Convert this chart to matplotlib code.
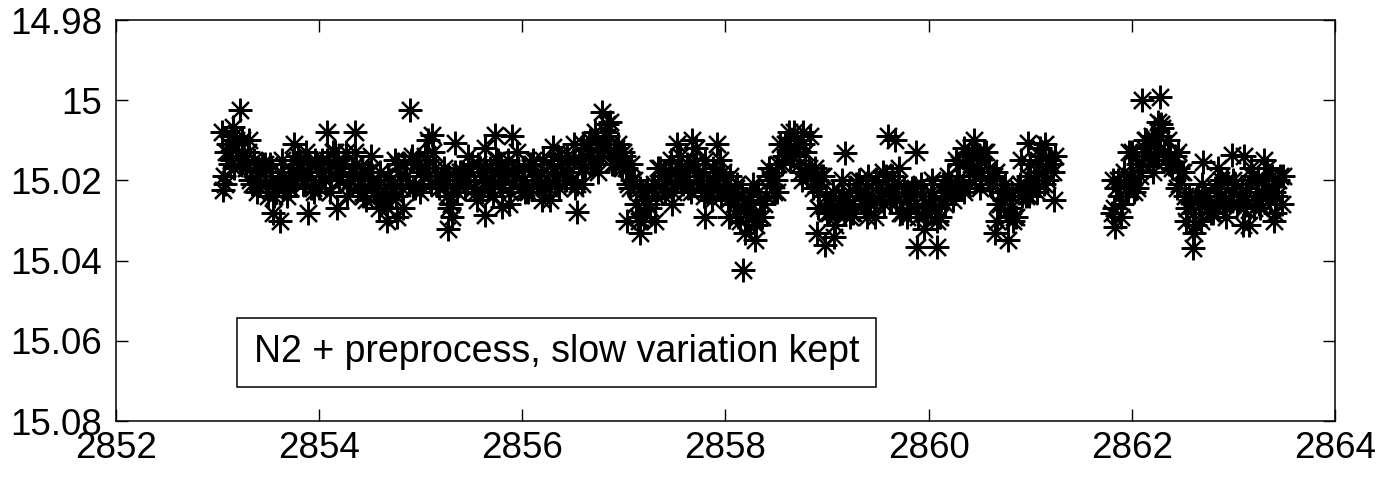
import numpy as np
import matplotlib
matplotlib.use("Agg")
import matplotlib.pyplot as plt

plt.rcParams['font.family'] = ['Liberation Sans', 'DejaVu Sans']

# first observing block (days, mag)
t1 = [2853.06, 2853.10, 2853.14, 2853.18, 2853.22, 2853.26, 2853.30, 2853.34, 2853.38, 2853.42,
      2853.46, 2853.50, 2853.54, 2853.58, 2853.62, 2853.66, 2853.70, 2853.74, 2853.78, 2853.82,
      2853.86, 2853.90, 2853.94, 2853.98, 2854.02, 2854.06, 2854.10, 2854.14, 2854.18, 2854.22,
      2854.26, 2854.30, 2854.34, 2854.38, 2854.42, 2854.46, 2854.50, 2854.54, 2854.58, 2854.62,
      2854.66, 2854.70, 2854.74, 2854.78, 2854.82, 2854.86, 2854.90, 2854.94, 2854.98, 2855.02,
      2855.06, 2855.10, 2855.14, 2855.18, 2855.22, 2855.26, 2855.30, 2855.34, 2855.38, 2855.42,
      2855.46, 2855.50, 2855.54, 2855.58, 2855.62, 2855.66, 2855.70, 2855.74, 2855.78, 2855.82,
      2855.86, 2855.90, 2855.94, 2855.98, 2856.02, 2856.06, 2856.10, 2856.14, 2856.18, 2856.22,
      2856.26, 2856.30, 2856.34, 2856.38, 2856.42, 2856.46, 2856.50, 2856.54, 2856.58, 2856.62,
      2856.66, 2856.70, 2856.74, 2856.78, 2856.82, 2856.86, 2856.90, 2856.94, 2856.98, 2857.02,
      2857.06, 2857.10, 2857.14, 2857.18, 2857.22, 2857.26, 2857.30, 2857.34, 2857.38, 2857.42,
      2857.46, 2857.50, 2857.54, 2857.58, 2857.62, 2857.66, 2857.70, 2857.74, 2857.78, 2857.82,
      2857.86, 2857.90, 2857.94, 2857.98, 2858.02, 2858.06, 2858.10, 2858.14, 2858.18, 2858.22,
      2858.26, 2858.30, 2858.34, 2858.38, 2858.42, 2858.46, 2858.50, 2858.54, 2858.58, 2858.62,
      2858.66, 2858.70, 2858.74, 2858.78, 2858.82, 2858.86, 2858.90, 2858.94, 2858.98, 2859.02,
      2859.06, 2859.10, 2859.14, 2859.18, 2859.22, 2859.26, 2859.30, 2859.34, 2859.38, 2859.42,
      2859.46, 2859.50, 2859.54, 2859.58, 2859.62, 2859.66, 2859.70, 2859.74, 2859.78, 2859.82,
      2859.86, 2859.90, 2859.94, 2859.98, 2860.02, 2860.06, 2860.10, 2860.14, 2860.18, 2860.22,
      2860.26, 2860.30, 2860.34, 2860.38, 2860.42, 2860.46, 2860.50, 2860.54, 2860.58, 2860.62,
      2860.66, 2860.70, 2860.74, 2860.78, 2860.82, 2860.86, 2860.90, 2860.94, 2860.98, 2861.02,
      2861.06, 2861.10, 2861.14, 2861.18, 2861.22]
m1 = [15.019, 15.013, 15.015, 15.010, 15.016, 15.015, 15.013, 15.021, 15.017, 15.021,
      15.017, 15.024, 15.020, 15.023, 15.018, 15.021, 15.022, 15.015, 15.019, 15.017,
      15.020, 15.016, 15.022, 15.016, 15.018, 15.020, 15.016, 15.013, 15.019, 15.018,
      15.013, 15.020, 15.018, 15.022, 15.018, 15.025, 15.018, 15.023, 15.021, 15.025,
      15.025, 15.020, 15.022, 15.016, 15.022, 15.019, 15.015, 15.022, 15.016, 15.019,
      15.015, 15.021, 15.017, 15.022, 15.019, 15.024, 15.026, 15.018, 15.021, 15.018,
      15.020, 15.016, 15.023, 15.017, 15.019, 15.022, 15.018, 15.015, 15.021, 15.020,
      15.015, 15.021, 15.019, 15.022, 15.017, 15.023, 15.016, 15.020, 15.018, 15.022,
      15.022, 15.017, 15.020, 15.015, 15.020, 15.018, 15.015, 15.021, 15.015, 15.017,
      15.011, 15.016, 15.010, 15.013, 15.008, 15.013, 15.016, 15.011, 15.017, 15.017,
      15.022, 15.020, 15.029, 15.023, 15.025, 15.027, 15.021, 15.017, 15.022, 15.020,
      15.015, 15.021, 15.019, 15.021, 15.016, 15.023, 15.016, 15.020, 15.018, 15.023,
      15.023, 15.018, 15.022, 15.018, 15.025, 15.024, 15.022, 15.030, 15.026, 15.029,
      15.026, 15.031, 15.025, 15.026, 15.019, 15.020, 15.020, 15.011, 15.014, 15.011,
      15.014, 15.010, 15.018, 15.013, 15.017, 15.022, 15.020, 15.019, 15.027, 15.028,
      15.023, 15.028, 15.026, 15.028, 15.023, 15.028, 15.021, 15.025, 15.022, 15.026,
      15.026, 15.021, 15.024, 15.019, 15.025, 15.023, 15.021, 15.028, 15.023, 15.027,
      15.023, 15.029, 15.024, 15.028, 15.023, 15.027, 15.029, 15.021, 15.024, 15.021,
      15.022, 15.016, 15.022, 15.015, 15.016, 15.019, 15.015, 15.013, 15.020, 15.021,
      15.018, 15.026, 15.025, 15.029, 15.024, 15.029, 15.021, 15.023, 15.019, 15.022,
      15.019, 15.014, 15.021, 15.015, 15.018]

# same block, readings in between
t1b = [2853.08, 2853.12, 2853.16, 2853.20, 2853.24, 2853.28, 2853.32, 2853.36, 2853.40, 2853.44,
       2853.48, 2853.52, 2853.56, 2853.60, 2853.64, 2853.68, 2853.72, 2853.76, 2853.80, 2853.84,
       2853.88, 2853.92, 2853.96, 2854.00, 2854.04, 2854.08, 2854.12, 2854.16, 2854.20, 2854.24,
       2854.28, 2854.32, 2854.36, 2854.40, 2854.44, 2854.48, 2854.52, 2854.56, 2854.60, 2854.64,
       2854.68, 2854.72, 2854.76, 2854.80, 2854.84, 2854.88, 2854.92, 2854.96, 2855.00, 2855.04,
       2855.08, 2855.12, 2855.16, 2855.20, 2855.24, 2855.28, 2855.32, 2855.36, 2855.40, 2855.44,
       2855.48, 2855.52, 2855.56, 2855.60, 2855.64, 2855.68, 2855.72, 2855.76, 2855.80, 2855.84,
       2855.88, 2855.92, 2855.96, 2856.00, 2856.04, 2856.08, 2856.12, 2856.16, 2856.20, 2856.24,
       2856.28, 2856.32, 2856.36, 2856.40, 2856.44, 2856.48, 2856.52, 2856.56, 2856.60, 2856.64,
       2856.68, 2856.72, 2856.76, 2856.80, 2856.84, 2856.88, 2856.92, 2856.96, 2857.00, 2857.04,
       2857.08, 2857.12, 2857.16, 2857.20, 2857.24, 2857.28, 2857.32, 2857.36, 2857.40, 2857.44,
       2857.48, 2857.52, 2857.56, 2857.60, 2857.64, 2857.68, 2857.72, 2857.76, 2857.80, 2857.84,
       2857.88, 2857.92, 2857.96, 2858.00, 2858.04, 2858.08, 2858.12, 2858.16, 2858.20, 2858.24,
       2858.28, 2858.32, 2858.36, 2858.40, 2858.44, 2858.48, 2858.52, 2858.56, 2858.60, 2858.64,
       2858.68, 2858.72, 2858.76, 2858.80, 2858.84, 2858.88, 2858.92, 2858.96, 2859.00, 2859.04,
       2859.08, 2859.12, 2859.16, 2859.20, 2859.24, 2859.28, 2859.32, 2859.36, 2859.40, 2859.44,
       2859.48, 2859.52, 2859.56, 2859.60, 2859.64, 2859.68, 2859.72, 2859.76, 2859.80, 2859.84,
       2859.88, 2859.92, 2859.96, 2860.00, 2860.04, 2860.08, 2860.12, 2860.16, 2860.20, 2860.24,
       2860.28, 2860.32, 2860.36, 2860.40, 2860.44, 2860.48, 2860.52, 2860.56, 2860.60, 2860.64,
       2860.68, 2860.72, 2860.76, 2860.80, 2860.84, 2860.88, 2860.92, 2860.96, 2861.00, 2861.04,
       2861.08, 2861.12, 2861.16, 2861.20, 2861.24]
m1b = [15.013, 15.016, 15.017, 15.013, 15.010, 15.017, 15.020, 15.015, 15.019, 15.016,
       15.021, 15.016, 15.024, 15.021, 15.019, 15.024, 15.018, 15.020, 15.016, 15.021,
       15.018, 15.022, 15.015, 15.022, 15.019, 15.015, 15.019, 15.013, 15.020, 15.016,
       15.021, 15.017, 15.016, 15.020, 15.023, 15.018, 15.021, 15.024, 15.018, 15.023,
       15.019, 15.023, 15.024, 15.019, 15.016, 15.021, 15.022, 15.016, 15.018, 15.014,
       15.019, 15.013, 15.021, 15.020, 15.020, 15.027, 15.022, 15.023, 15.018, 15.022,
       15.018, 15.022, 15.016, 15.023, 15.020, 15.017, 15.021, 15.015, 15.022, 15.018,
       15.023, 15.018, 15.017, 15.020, 15.022, 15.016, 15.019, 15.021, 15.015, 15.020,
       15.016, 15.020, 15.022, 15.018, 15.014, 15.020, 15.022, 15.015, 15.017, 15.012,
       15.015, 15.008, 15.014, 15.011, 15.009, 15.016, 15.012, 15.016, 15.014, 15.021,
       15.020, 15.026, 15.022, 15.029, 15.026, 15.022, 15.024, 15.017, 15.023, 15.018,
       15.023, 15.018, 15.017, 15.019, 15.021, 15.016, 15.019, 15.021, 15.015, 15.021,
       15.017, 15.021, 15.024, 15.021, 15.019, 15.026, 15.029, 15.024, 15.028, 15.024,
       15.030, 15.023, 15.029, 15.024, 15.020, 15.023, 15.016, 15.016, 15.011, 15.015,
       15.012, 15.016, 15.011, 15.019, 15.018, 15.017, 15.023, 15.019, 15.028, 15.026,
       15.031, 15.025, 15.024, 15.026, 15.028, 15.021, 15.024, 15.026, 15.019, 15.024,
       15.020, 15.024, 15.026, 15.022, 15.019, 15.025, 15.028, 15.022, 15.025, 15.022,
       15.027, 15.021, 15.028, 15.026, 15.024, 15.030, 15.025, 15.026, 15.021, 15.025,
       15.020, 15.022, 15.015, 15.021, 15.017, 15.014, 15.018, 15.013, 15.021, 15.019,
       15.026, 15.023, 15.023, 15.027, 15.029, 15.022, 15.024, 15.024, 15.016, 15.020,
       15.015, 15.018, 15.020, 15.016, 15.014]

# sparser readings with a wider spread
t1c = [2853.07, 2853.15, 2853.23, 2853.31, 2853.39, 2853.47, 2853.55, 2853.63, 2853.71, 2853.79,
       2853.87, 2853.95, 2854.03, 2854.11, 2854.19, 2854.27, 2854.35, 2854.43, 2854.51, 2854.59,
       2854.67, 2854.75, 2854.83, 2854.91, 2854.99, 2855.07, 2855.15, 2855.23, 2855.31, 2855.39,
       2855.47, 2855.55, 2855.63, 2855.71, 2855.79, 2855.87, 2855.95, 2856.03, 2856.11, 2856.19,
       2856.27, 2856.35, 2856.43, 2856.51, 2856.59, 2856.67, 2856.75, 2856.83, 2856.91, 2856.99,
       2857.07, 2857.15, 2857.23, 2857.31, 2857.39, 2857.47, 2857.55, 2857.63, 2857.71, 2857.79,
       2857.87, 2857.95, 2858.03, 2858.11, 2858.19, 2858.27, 2858.35, 2858.43, 2858.51, 2858.59,
       2858.67, 2858.75, 2858.83, 2858.91, 2858.99, 2859.07, 2859.15, 2859.23, 2859.31, 2859.39,
       2859.47, 2859.55, 2859.63, 2859.71, 2859.79, 2859.87, 2859.95, 2860.03, 2860.11, 2860.19,
       2860.27, 2860.35, 2860.43, 2860.51, 2860.59, 2860.67, 2860.75, 2860.83, 2860.91, 2860.99,
       2861.07, 2861.15, 2861.23]
m1c = [15.021, 15.009, 15.016, 15.010, 15.023, 15.016, 15.028, 15.015, 15.022, 15.014,
       15.013, 15.023, 15.015, 15.023, 15.015, 15.024, 15.013, 15.024, 15.014, 15.027,
       15.027, 15.015, 15.027, 15.014, 15.023, 15.010, 15.021, 15.017, 15.029, 15.018,
       15.014, 15.025, 15.012, 15.024, 15.016, 15.026, 15.013, 15.023, 15.015, 15.025,
       15.025, 15.014, 15.020, 15.011, 15.021, 15.010, 15.018, 15.006, 15.016, 15.013,
       15.016, 15.030, 15.022, 15.030, 15.019, 15.026, 15.014, 15.022, 15.012, 15.024,
       15.025, 15.015, 15.029, 15.021, 15.033, 15.021, 15.029, 15.017, 15.023, 15.011,
       15.008, 15.020, 15.009, 15.027, 15.024, 15.034, 15.020, 15.029, 15.020, 15.029,
       15.029, 15.018, 15.025, 15.017, 15.029, 15.022, 15.032, 15.020, 15.029, 15.019,
       15.015, 15.023, 15.013, 15.022, 15.017, 15.030, 15.021, 15.030, 15.015, 15.024,
       15.023, 15.011, 15.025]

# second observing block
t2 = [2861.80, 2861.84, 2861.88, 2861.92, 2861.96, 2862.00, 2862.04, 2862.08, 2862.12, 2862.16,
      2862.20, 2862.24, 2862.28, 2862.32, 2862.36, 2862.40, 2862.44, 2862.48, 2862.52, 2862.56,
      2862.60, 2862.64, 2862.68, 2862.72, 2862.76, 2862.80, 2862.84, 2862.88, 2862.92, 2862.96,
      2863.00, 2863.04, 2863.08, 2863.12, 2863.16, 2863.20, 2863.24, 2863.28, 2863.32, 2863.36,
      2863.40, 2863.44, 2863.48]
m2 = [15.028, 15.022, 15.024, 15.018, 15.023, 15.019, 15.014, 15.019, 15.012, 15.014,
      15.009, 15.014, 15.009, 15.013, 15.010, 15.017, 15.022, 15.018, 15.024, 15.024,
      15.028, 15.024, 15.030, 15.024, 15.025, 15.028, 15.023, 15.020, 15.026, 15.025,
      15.020, 15.026, 15.024, 15.026, 15.021, 15.027, 15.020, 15.023, 15.021, 15.025,
      15.023, 15.020, 15.026]

t2b = [2861.82, 2861.86, 2861.90, 2861.94, 2861.98, 2862.02, 2862.06, 2862.10, 2862.14, 2862.18,
       2862.22, 2862.26, 2862.30, 2862.34, 2862.38, 2862.42, 2862.46, 2862.50, 2862.54, 2862.58,
       2862.62, 2862.66, 2862.70, 2862.74, 2862.78, 2862.82, 2862.86, 2862.90, 2862.94, 2862.98,
       2863.02, 2863.06, 2863.10, 2863.14, 2863.18, 2863.22, 2863.26, 2863.30, 2863.34, 2863.38,
       2863.42, 2863.46]
m2b = [15.027, 15.020, 15.026, 15.022, 15.019, 15.023, 15.016, 15.016, 15.010, 15.014,
       15.010, 15.013, 15.007, 15.015, 15.014, 15.014, 15.021, 15.018, 15.027, 15.025,
       15.031, 15.026, 15.024, 15.027, 15.028, 15.022, 15.024, 15.026, 15.020, 15.025,
       15.021, 15.025, 15.027, 15.022, 15.019, 15.025, 15.027, 15.020, 15.023, 15.019,
       15.024, 15.019]

t2c = [2861.81, 2861.89, 2861.97, 2862.05, 2862.13, 2862.21, 2862.29, 2862.37, 2862.45, 2862.53,
       2862.61, 2862.69, 2862.77, 2862.85, 2862.93, 2863.01, 2863.09, 2863.17, 2863.25, 2863.33,
       2863.41, 2863.49]
m2c = [15.020, 15.029, 15.013, 15.022, 15.010, 15.018, 15.006, 15.016, 15.013, 15.030,
       15.033, 15.021, 15.027, 15.017, 15.029, 15.021, 15.031, 15.017, 15.026, 15.017,
       15.028, 15.019]

# scattered points away from the main band
t_out = [2853.04, 2853.15, 2853.22, 2853.05, 2853.10, 2853.61, 2853.89, 2853.75, 2854.08, 2854.35,
         2854.18, 2854.67, 2854.89, 2854.77, 2855.11, 2855.34, 2855.27, 2855.73, 2855.90, 2855.63,
         2855.80, 2856.30, 2856.54, 2856.60, 2856.78, 2856.86, 2857.16, 2857.03, 2857.52, 2857.67,
         2857.92, 2857.80, 2858.17, 2858.29, 2858.63, 2858.76, 2858.98, 2858.90, 2859.18, 2859.60,
         2859.67, 2859.88, 2859.89, 2860.08, 2860.45, 2860.35, 2860.78, 2860.65, 2860.98, 2861.10,
         2861.83, 2862.10, 2862.28, 2862.26, 2862.00, 2862.60, 2862.70, 2862.99, 2863.10, 2863.30,
         2863.15, 2863.40, 2862.45]
m_out = [15.008, 15.0067, 15.0024, 15.0223, 15.011, 15.030, 15.028, 15.011, 15.008, 15.008,
         15.027, 15.030, 15.0024, 15.029, 15.0087, 15.0107, 15.032, 15.0087, 15.009, 15.0286,
         15.0266, 15.0116, 15.0278, 15.011, 15.0029, 15.0054, 15.033, 15.030, 15.011, 15.010,
         15.011, 15.029, 15.0423, 15.0348, 15.008, 15.008, 15.036, 15.033, 15.0131, 15.009,
         15.010, 15.013, 15.0365, 15.0365, 15.010, 15.012, 15.0348, 15.033, 15.0107, 15.012,
         15.0316, 15.000, 14.9992, 15.0054, 15.013, 15.0368, 15.0154, 15.0136, 15.014, 15.015,
         15.031, 15.030, 15.017]

x_ticks = [2852, 2854, 2856, 2858, 2860, 2862, 2864]
y_ticks = [14.98, 15.00, 15.02, 15.04, 15.06, 15.08]
y_labels = ['14.98', '15', '15.02', '15.04', '15.06', '15.08']

t_all = np.concatenate([t1, t1b, t1c, t2, t2b, t2c, t_out])
m_all = np.concatenate([m1, m1b, m1c, m2, m2b, m2c, m_out])

fig = plt.figure(figsize=(13.82, 4.78), dpi=100)
ax = fig.add_axes([0.0839, 0.1192, 0.8821, 0.8389])

ax.plot(t_all, m_all, linestyle='none', marker=(8, 2, 0), markersize=17,
        markeredgewidth=1.6, color='black')

ax.set_xlim(2852, 2864)
ax.set_ylim(15.08, 14.98)
ax.set_xticks(x_ticks)
ax.set_xticklabels([str(v) for v in x_ticks])
ax.set_yticks(y_ticks)
ax.set_yticklabels(y_labels)
ax.tick_params(direction='in', length=8.5, width=1, top=True, right=True,
               labelsize=26.5)
ax.tick_params(axis='x', pad=7)
ax.tick_params(axis='y', pad=10)
for s in ax.spines.values():
    s.set_linewidth(1.1)

ax.text(0.3614, 0.171, 'N2 + preprocess, slow variation kept', transform=ax.transAxes,
        ha='center', va='center', fontsize=27,
        bbox=dict(boxstyle='square,pad=0.45', facecolor='white', edgecolor='black', linewidth=1.1))

fig.savefig('out.png', dpi=100)
